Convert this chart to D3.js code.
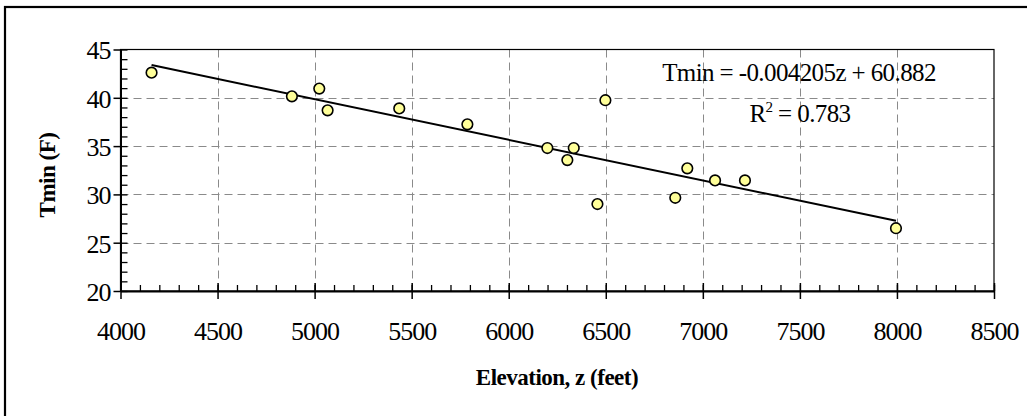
<!DOCTYPE html>
<html>
<head>
<meta charset="utf-8">
<script src="https://cdn.jsdelivr.net/npm/d3@7"></script>
<style>
  html, body { margin: 0; padding: 0; background: #fff; }
  svg { display: block; }
  text { font-family: "Liberation Serif", "Times New Roman", serif; fill: #000; }
</style>
</head>
<body>
<svg id="chart" width="1027" height="416"></svg>
<script>
// ---- data ----
const elevation = [4160, 4883, 5024, 5067, 5436, 5787, 6199, 6335, 6302, 6498, 6457, 6858, 6920, 7063, 7217, 7995];
const tmin      = [42.6, 40.15, 40.95, 38.7, 38.9, 37.25, 34.8, 34.8, 33.55, 39.75, 29.0, 29.65, 32.7, 31.45, 31.45, 26.5];
const xTicks = [4000, 4500, 5000, 5500, 6000, 6500, 7000, 7500, 8000, 8500];
const yTicks = [20, 25, 30, 35, 40, 45];
const slope = -0.004205, intercept = 60.882;
const eqLabel = "Tmin = -0.004205z + 60.882";
const r2Value = "0.783";

const svg = d3.select("#chart");
const L = 120.5, R = 994, T = 49.5, B = 291;
const x = d3.scaleLinear().domain([4000, 8500]).range([L, R]);
const y = d3.scaleLinear().domain([20, 45]).range([B, T]);

// outer frame (only top/left visible)
svg.append("rect").attr("x", 5).attr("y", 7).attr("width", 1200).attr("height", 600)
  .attr("fill", "none").attr("stroke", "#000").attr("stroke-width", 2.2);

// gridlines
const grid = svg.append("g").attr("stroke", "#8a8a8a").attr("stroke-width", 1).attr("stroke-dasharray", "8,5");
grid.selectAll("line.v").data(xTicks.filter(d => d > 4000 && d < 8500)).join("line")
  .attr("x1", d => Math.round(x(d)) + 0.5).attr("x2", d => Math.round(x(d)) + 0.5)
  .attr("y1", T).attr("y2", B);
grid.selectAll("line.h").data(yTicks.filter(d => d > 20 && d < 45)).join("line")
  .attr("y1", d => Math.round(y(d)) + 0.5).attr("y2", d => Math.round(y(d)) + 0.5)
  .attr("x1", L).attr("x2", R);

// plot frame
svg.append("rect").attr("x", L).attr("y", T).attr("width", R - L).attr("height", B - T)
  .attr("fill", "none").attr("stroke", "#000").attr("stroke-width", 1.2);

// x axis
const xAxis = svg.append("g").attr("transform", `translate(0,${B})`);
xAxis.call(d3.axisBottom(x).tickValues(d3.range(4000, 8501, 100)).tickSize(-6).tickFormat(""))
  .call(g => g.select(".domain").remove())
  .call(g => g.selectAll("line").attr("stroke", "#000").attr("stroke-width", 1.3));
xAxis.append("g").call(d3.axisBottom(x).tickValues(xTicks).tickSizeInner(8).tickSizeOuter(0).tickFormat(d3.format("d")))
  .call(g => g.select(".domain").attr("stroke", "#000").attr("stroke-width", 2))
  .call(g => g.selectAll("line").attr("stroke", "#000").attr("stroke-width", 1.5).attr("y1", -8))
  .call(g => g.selectAll("text").attr("y", 49).attr("dy", 0).attr("font-size", 26).attr("letter-spacing", "-1px")
    .attr("font-family", "Liberation Serif, serif").attr("fill", "#000"));

// y axis
const yAxis = svg.append("g").attr("transform", `translate(${L},0)`);
yAxis.call(d3.axisLeft(y).tickValues(d3.range(20, 45.01, 1)).tickSize(-7).tickFormat(""))
  .call(g => g.select(".domain").remove())
  .call(g => g.selectAll("line").attr("stroke", "#000").attr("stroke-width", 1.3));
yAxis.append("g").call(d3.axisLeft(y).tickValues(yTicks).tickSizeInner(7).tickSizeOuter(0).tickFormat(d3.format("d")))
  .call(g => g.select(".domain").attr("stroke", "#000").attr("stroke-width", 2))
  .call(g => g.selectAll("line").attr("stroke", "#000").attr("stroke-width", 1.5))
  .call(g => g.selectAll("text").attr("x", -10).attr("dy", "0.36em").attr("font-size", 26).attr("letter-spacing", "-1px")
    .attr("font-family", "Liberation Serif, serif").attr("fill", "#000"));

// regression line
const xMin = d3.min(elevation), xMax = d3.max(elevation);
svg.append("line")
  .attr("x1", x(xMin)).attr("y1", y(slope * xMin + intercept))
  .attr("x2", x(xMax)).attr("y2", y(slope * xMax + intercept))
  .attr("stroke", "#000").attr("stroke-width", 2);

// points
svg.append("g").selectAll("circle").data(elevation.map((e, i) => [e, tmin[i]])).join("circle")
  .attr("cx", d => x(d[0])).attr("cy", d => y(d[1])).attr("r", 5.3)
  .attr("fill", "#ffff99").attr("stroke", "#000").attr("stroke-width", 1.6);

// equation
svg.append("text").attr("x", 799).attr("y", 81).attr("text-anchor", "middle")
  .attr("font-size", 25).attr("letter-spacing", "-0.6px").text(eqLabel);
const r2 = svg.append("text").attr("x", 800).attr("y", 122).attr("text-anchor", "middle")
  .attr("font-size", 25).attr("letter-spacing", "-0.6px");
r2.append("tspan").text("R");
r2.append("tspan").attr("font-size", 15).attr("dy", -10).text("2");
r2.append("tspan").attr("dy", 10).text(" = " + r2Value);

// axis titles
svg.append("text").attr("x", 557).attr("y", 385).attr("text-anchor", "middle")
  .attr("font-size", 23).attr("font-weight", "bold").attr("letter-spacing", "-0.5px").text("Elevation, z (feet)");
svg.append("text").attr("transform", "translate(55,175) rotate(-90)").attr("text-anchor", "middle")
  .attr("font-size", 23).attr("font-weight", "bold").attr("letter-spacing", "-0.5px").text("Tmin (F)");
</script>
</body>
</html>
